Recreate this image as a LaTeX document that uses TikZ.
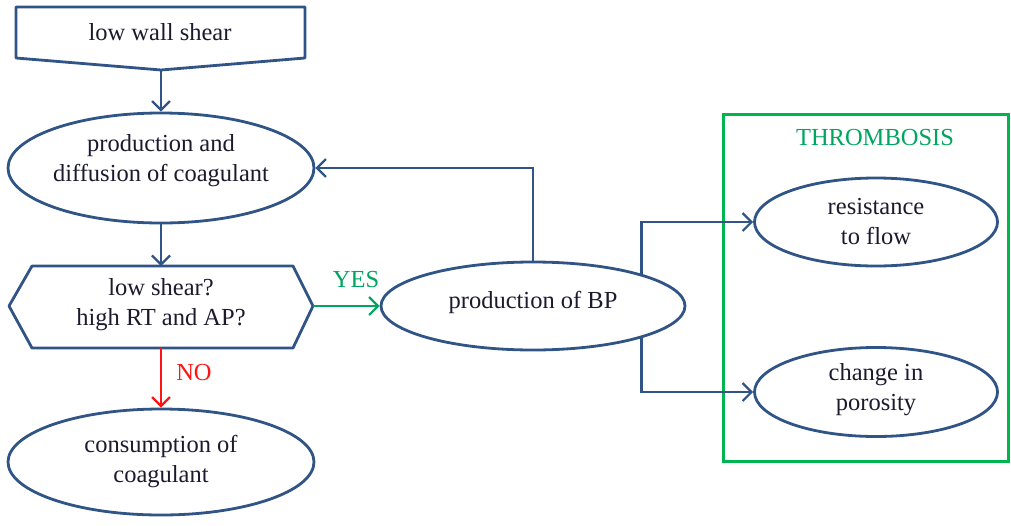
\documentclass[tikz,border=0pt]{standalone}
\usepackage{fontspec}
\setmainfont{Liberation Serif}
\usetikzlibrary{shapes.geometric,arrows.meta}
\definecolor{lineblue}{RGB}{48,84,134}
\definecolor{boxgreen}{RGB}{0,180,80}
\definecolor{txtgreen}{RGB}{0,165,95}
\definecolor{nored}{RGB}{255,20,20}
\definecolor{txtdark}{RGB}{30,25,45}
\begin{document}
\begin{tikzpicture}[x=1pt,y=-1pt,
  every node/.style={font=\fontsize{24.5}{30}\selectfont, text=txtdark, align=center, inner sep=0pt},
  oval/.style={ellipse, draw=lineblue, line width=2.8pt},
  shapeline/.style={draw=lineblue, line width=2.8pt, line join=round},
  arrowtip/.style={-{Straight Barb[length=9pt,width=18pt,line width=2.2pt]}},
  conn/.style={draw=lineblue, line width=2.3pt, arrowtip},
  yesconn/.style={draw=txtgreen, line width=2.3pt, arrowtip},
  noconn/.style={draw=nored, line width=2.3pt, arrowtip},
  thrombox/.style={draw=boxgreen, line width=3pt}]
\useasboundingbox (0,0) rectangle (1011,525);

% green THROMBOSIS frame
\draw[thrombox] (723,114) rectangle (1008,461);
\node[text=txtgreen] (thr) at (875,138) {THROMBOSIS};

% low wall shear (off-page shape)
\coordinate (lwsTip) at (161,70);
\draw[shapeline] (16,7) -- (305,7) -- (305,58) -- (lwsTip) -- (16,58) -- cycle;
\node (lws) at (160,32) {low wall shear};

% ellipses
\node[oval, minimum width=306, minimum height=110] (coag) at (161,168) {};
\node (coagtxt) at (161,161) {production and\\diffusion of coagulant};

\node[oval, minimum width=306, minimum height=106] (cons) at (161,462) {};
\node (constxt) at (161,462) {consumption of\\coagulant};

\node[oval, minimum width=304, minimum height=88] (bp) at (533,306) {};
\node (bptxt) at (533,302) {production of BP};

\node[oval, minimum width=243, minimum height=88] (res) at (876,222) {};
\node (restxt) at (876,222) {resistance\\to flow};

\node[oval, minimum width=243, minimum height=89] (por) at (876,392) {};
\node (portxt) at (876,390) {change in\\porosity};

% decision hexagon
\coordinate (hexN) at (161,266);
\coordinate (hexS) at (161,348);
\coordinate (hexE) at (313,306);
\draw[shapeline] (9,306) -- (32,266) -- (293,266) -- (hexE) -- (293,348) -- (32,348) -- cycle;
\node (hextxt) at (161,305) {low shear?\\high RT and AP?};

% connectors
\draw[conn] (lwsTip) -- (coag.north);
\draw[conn] (coag.south) -- (hexN);
\draw[noconn] (hexS) -- (cons.north);
\node[text=nored] (no) at (194,373) {NO};
\draw[yesconn] (hexE) -- (bp.west);
\node[text=txtgreen] (yes) at (356,280) {YES};
\draw[conn] (bp.north) |- (coag.east);
\draw[conn] (bp.north east) |- (res.west);
\draw[conn] (bp.south east) |- (por.west);
\end{tikzpicture}
\end{document}
